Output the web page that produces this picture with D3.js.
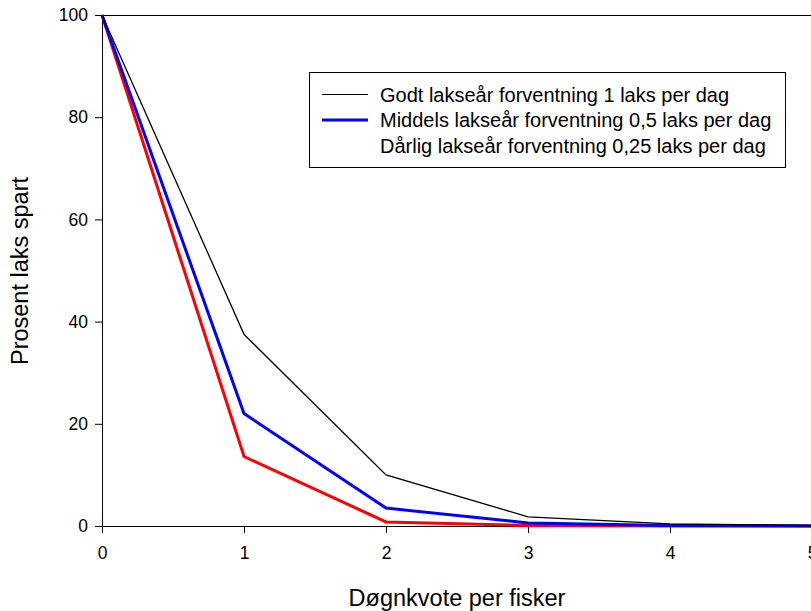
<!DOCTYPE html>
<html>
<head>
<meta charset="utf-8">
<script src="https://cdn.jsdelivr.net/npm/d3@7"></script>
<style>
  body { margin: 0; background: #fff; }
  text { font-family: "Liberation Sans", Arial, sans-serif; }
</style>
</head>
<body>
<div id="chart"></div>
<script>
// døgnkvote (x) og prosent laks spart for tre lakseår
var kvote = [0, 1, 2, 3, 4, 5];
var godt = [100, 37.5, 10, 1.8, 0.4, 0.1];
var middels = [100, 22, 3.5, 0.6, 0.1, 0];
var darlig = [100, 13.6, 0.8, 0.1, 0, 0];
var seriesNames = [
    "Godt lakseår forventning 1 laks per dag",
    "Middels lakseår forventning 0,5 laks per dag",
    "Dårlig lakseår forventning 0,25 laks per dag"
];
var yTicks = [0, 20, 40, 60, 80, 100];

var width = 811, height = 611;
var plotLeft = 102, plotTop = 15, plotRight = 812, plotBottom = 526;

var svg = d3.select("#chart")
    .append("svg")
    .attr("width", width)
    .attr("height", height);

var x = d3.scaleLinear().domain([0, 5]).range([plotLeft, plotRight]);
var y = d3.scaleLinear().domain([0, 100]).range([plotBottom, plotTop]);

// top border
svg.append("line")
    .attr("x1", plotLeft).attr("x2", width)
    .attr("y1", plotTop + 0.5).attr("y2", plotTop + 0.5)
    .attr("stroke", "#000").attr("stroke-width", 1);

var xAxis = svg.append("g")
    .attr("transform", "translate(0," + plotBottom + ")")
    .call(d3.axisBottom(x).tickValues(kvote).tickFormat(d3.format("d"))
        .tickSize(7).tickPadding(5).tickSizeOuter(0));

var yAxis = svg.append("g")
    .attr("transform", "translate(" + plotLeft + ",0)")
    .call(d3.axisLeft(y).tickValues(yTicks).tickFormat(d3.format("d"))
        .tickSize(7).tickPadding(7).tickSizeOuter(0));

[xAxis, yAxis].forEach(function (g) {
    g.selectAll("text")
        .attr("font-size", 17.5)
        .attr("font-family", "Liberation Sans, Arial, sans-serif")
        .attr("fill", "#000");
    g.selectAll("line, path").attr("stroke", "#000");
});
xAxis.selectAll("text").attr("dy", "1.2em");

var line = d3.line()
    .x(function (d, i) { return x(kvote[i]); })
    .y(function (d) { return y(d); });

var series = [
    { values: darlig, color: "#ff0000", w: 3 },
    { values: middels, color: "#0000ff", w: 3 },
    { values: godt, color: "#000000", w: 1.3 }
];

svg.append("g").selectAll("path")
    .data(series)
    .enter()
    .append("path")
    .attr("d", function (d) { return line(d.values); })
    .attr("fill", "none")
    .attr("stroke", function (d) { return d.color; })
    .attr("stroke-width", function (d) { return d.w; });

// legend
var legend = svg.append("g");
legend.append("rect")
    .attr("x", 309.5).attr("y", 72.5)
    .attr("width", 476).attr("height", 95)
    .attr("fill", "#fff").attr("stroke", "#000");

var legendColors = ["#000000", "#0000ff", null];
var legendWidths = [1, 3, 0];
seriesNames.forEach(function (name, i) {
    var ly = 94.5 + i * 25.5;
    if (legendColors[i]) {
        legend.append("line")
            .attr("x1", 322).attr("x2", 368)
            .attr("y1", ly).attr("y2", ly)
            .attr("stroke", legendColors[i])
            .attr("stroke-width", legendWidths[i]);
    }
    legend.append("text")
        .attr("x", 380).attr("y", ly)
        .attr("dy", "0.35em")
        .attr("font-size", 20)
        .text(name);
});

svg.append("text")
    .attr("x", 457).attr("y", 606)
    .attr("text-anchor", "middle")
    .attr("font-size", 23.5)
    .text("Døgnkvote per fisker");

svg.append("text")
    .attr("transform", "translate(28,271) rotate(-90)")
    .attr("text-anchor", "middle")
    .attr("font-size", 23.5)
    .text("Prosent laks spart");
</script>
</body>
</html>
